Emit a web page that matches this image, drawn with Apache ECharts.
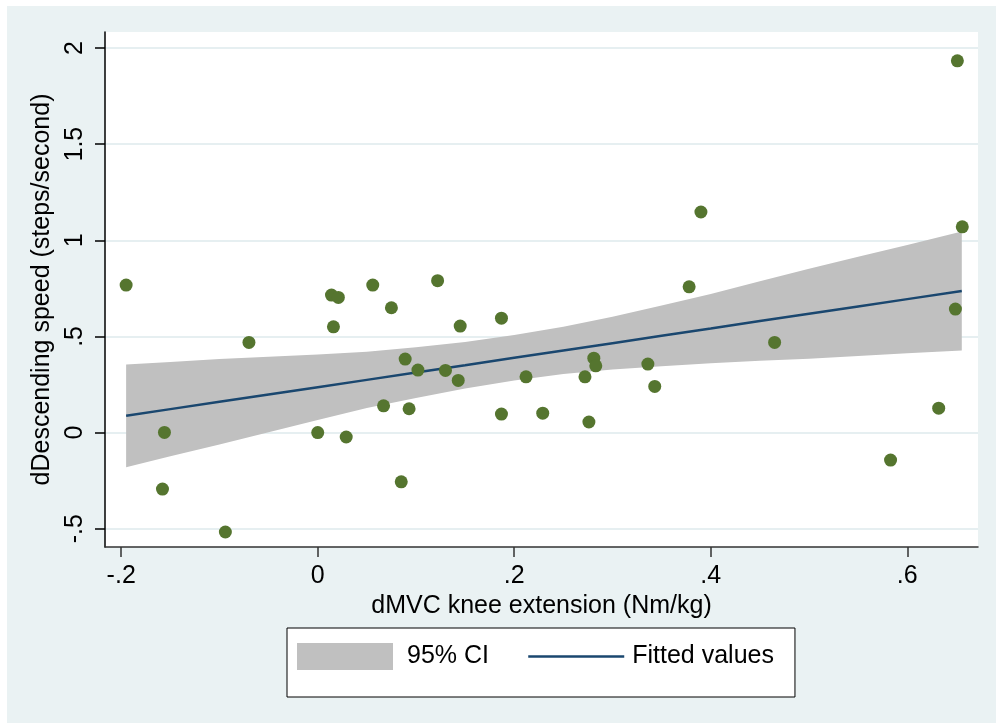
<!DOCTYPE html>
<html>
<head>
<meta charset="utf-8">
<script src="https://cdn.jsdelivr.net/npm/echarts@6/dist/echarts.min.js"></script>
<style>
html,body{margin:0;padding:0;background:#ffffff;}
#chart{position:absolute;left:7px;top:6px;width:989px;height:717px;}
</style>
</head>
<body>
<div id="chart"></div>
<script>
// Scatter data (dMVC knee extension, dDescending speed)
var xData = [-0.195, 0.014, 0.021, 0.056, 0.075, 0.016, -0.070, -0.156, -0.158, -0.094,
             0.000, 0.029, 0.067, 0.122, 0.145, 0.187, 0.089, 0.102, 0.130, 0.143,
             0.212, 0.272, 0.281, 0.283, 0.336, 0.343, 0.093, 0.187, 0.229, 0.276,
             0.085, 0.378, 0.465, 0.649, 0.632, 0.583, 0.651, 0.390, 0.656];
var yData = [0.767, 0.715, 0.703, 0.767, 0.649, 0.550, 0.469, 0.001, -0.294, -0.517,
             0.000, -0.023, 0.139, 0.790, 0.554, 0.595, 0.382, 0.325, 0.323, 0.271,
             0.290, 0.290, 0.387, 0.347, 0.356, 0.240, 0.124, 0.096, 0.101, 0.055,
             -0.256, 0.758, 0.469, 0.642, 0.127, -0.143, 1.933, 1.147, 1.070];

// Confidence band and fitted line
var ciX     = [-0.195, -0.15, -0.1, -0.05, 0.0, 0.05, 0.1, 0.15, 0.2, 0.25, 0.3, 0.35, 0.4, 0.45, 0.5, 0.55, 0.6, 0.6555];
var ciUpper = [0.354, 0.367, 0.382, 0.394, 0.406, 0.420, 0.444, 0.471, 0.507, 0.550, 0.602, 0.661, 0.721, 0.787, 0.852, 0.914, 0.976, 1.045];
var ciLower = [-0.180, -0.123, -0.062, 0.002, 0.066, 0.128, 0.180, 0.229, 0.271, 0.304, 0.328, 0.345, 0.361, 0.373, 0.384, 0.398, 0.412, 0.427];
var fitY    = [0.087, 0.122, 0.160, 0.198, 0.236, 0.274, 0.312, 0.350, 0.389, 0.427, 0.465, 0.503, 0.541, 0.580, 0.618, 0.656, 0.694, 0.736];

// Axis ticks
var xTickValues = [-0.2, 0, 0.2, 0.4, 0.6];
var xTickLabels = ['-.2', '0', '.2', '.4', '.6'];
var yTickValues = [-0.5, 0, 0.5, 1, 1.5, 2];
var yTickLabels = ['-.5', '0', '.5', '1', '1.5', '2'];

var FONT = "'Liberation Sans', Arial, Helvetica, sans-serif";

function lookup(vals, labels) {
  return function (v) {
    for (var i = 0; i < vals.length; i++) {
      if (Math.abs(vals[i] - v) < 1e-6) return labels[i];
    }
    return '';
  };
}

var chart = echarts.init(document.getElementById('chart'), null, {renderer: 'canvas'});

var bandData = ciX.map(function (x, i) { return [x, ciUpper[i], ciLower[i]]; });
var fitData = ciX.map(function (x, i) { return [x, fitY[i]]; });
var scatterData = xData.map(function (x, i) { return [x, yData[i]]; });

var option = {
  backgroundColor: '#EAF2F3',
  animation: false,
  textStyle: {fontFamily: FONT},
  grid: {
    left: 98, right: 18, top: 26, bottom: 176,
    show: true, backgroundColor: '#ffffff', borderWidth: 0
  },
  xAxis: {
    type: 'value',
    min: -0.2165, max: 0.672,
    name: 'dMVC knee extension (Nm/kg)',
    nameLocation: 'middle',
    nameGap: 43,
    nameTextStyle: {fontSize: 25, color: '#000', fontFamily: FONT},
    axisLine: {show: true, onZero: false, lineStyle: {color: '#333', width: 1.5}},
    axisTick: {show: true, length: 10, customValues: xTickValues, lineStyle: {color: '#333', width: 1.5}},
    axisLabel: {
      show: true, margin: 17, fontSize: 25, color: '#000', fontFamily: FONT,
      customValues: xTickValues,
      formatter: lookup(xTickValues, xTickLabels)
    },
    splitLine: {show: false}
  },
  yAxis: {
    type: 'value',
    min: -0.595, max: 2.083,
    name: 'dDescending speed (steps/second)',
    nameLocation: 'middle',
    nameGap: 46,
    nameRotate: 90,
    nameTextStyle: {fontSize: 25, color: '#000', fontFamily: FONT},
    axisLine: {show: true, onZero: false, lineStyle: {color: '#000', width: 1.5}},
    axisTick: {show: true, length: 10, customValues: yTickValues, lineStyle: {color: '#000', width: 1.5}},
    axisLabel: {
      show: true, margin: 17, rotate: 90, fontSize: 25, color: '#000', fontFamily: FONT,
      customValues: yTickValues,
      formatter: lookup(yTickValues, yTickLabels)
    },
    splitLine: {show: true, lineStyle: {color: '#E6EFF1', width: 2}}
  },
  legend: {
    show: true,
    left: 280, top: 622,
    orient: 'horizontal',
    backgroundColor: '#ffffff',
    borderColor: '#000',
    borderWidth: 1,
    borderRadius: 0,
    padding: [15, 21, 27, 10],
    itemWidth: 96,
    itemHeight: 27,
    itemGap: 38,
    textStyle: {fontSize: 25, color: '#000', fontFamily: FONT},
    data: [
      {name: '95% CI', icon: 'rect', itemStyle: {color: '#C0C0C0'}, textStyle: {padding: [0, 0, 0, 9]}},
      {name: 'Fitted values', itemStyle: {opacity: 0}, lineStyle: {color: '#1A476F', width: 2.5}, textStyle: {padding: [0, 0, 0, 3]}}
    ]
  },
  series: [
    {
      name: '95% CI',
      type: 'custom',
      itemStyle: {color: '#C0C0C0'},
      encode: {x: 0, y: [1, 2]},
      data: bandData,
      z: 1,
      renderItem: function (params, api) {
        if (params.dataIndex !== 0) return null;
        var pts = [];
        for (var i = 0; i < bandData.length; i++) {
          pts.push(api.coord([bandData[i][0], bandData[i][1]]));
        }
        for (var j = bandData.length - 1; j >= 0; j--) {
          pts.push(api.coord([bandData[j][0], bandData[j][2]]));
        }
        return {
          type: 'polygon',
          shape: {points: pts},
          style: {fill: '#C0C0C0', stroke: null}
        };
      }
    },
    {
      name: 'Fitted values',
      type: 'line',
      data: fitData,
      symbol: 'none',
      showSymbol: false,
      lineStyle: {color: '#1A476F', width: 2.5},
      itemStyle: {color: '#1A476F'},
      z: 2
    },
    {
      name: 'points',
      type: 'scatter',
      data: scatterData,
      symbol: 'circle',
      symbolSize: 13,
      itemStyle: {color: '#55752F', opacity: 1},
      z: 3
    }
  ]
};

chart.setOption(option);
</script>
</body>
</html>
